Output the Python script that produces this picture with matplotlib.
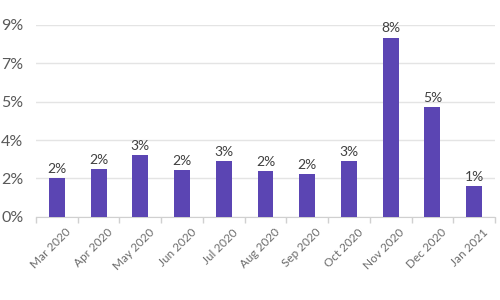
import matplotlib.pyplot as plt
import numpy as np
from matplotlib.ticker import FuncFormatter

# Monthly share values (percent)
months = ['Mar 2020', 'Apr 2020', 'May 2020', 'Jun 2020', 'Jul 2020', 'Aug 2020',
          'Sep 2020', 'Oct 2020', 'Nov 2020', 'Dec 2020', 'Jan 2021']
share = [1.83, 2.25, 2.9, 2.2, 2.6, 2.16, 2.0, 2.6, 8.4, 5.16, 1.46]
y_ticks = [0, 1.8, 3.6, 5.4, 7.2, 9.0]

plt.rcParams['font.family'] = ['Lato', 'DejaVu Sans']

fig = plt.figure(figsize=(5, 3), dpi=100)
ax = fig.add_axes([0.072, 0.277, 0.918, 0.64])

x = np.arange(len(months))
ax.bar(x, share, width=0.38, color='#5b45b3', zorder=3)

# Value labels above bars
for xi, v in zip(x, share):
    ax.text(xi, v + 0.15, f'{v:.0f}%', ha='center', va='bottom',
            fontsize=10, color='#404040', clip_on=False)

ax.set_ylim(0, 9.0)
ax.set_xlim(-0.5, len(months) - 0.5)
ax.set_yticks(y_ticks)
ax.yaxis.set_major_formatter(FuncFormatter(lambda v, p: f'{v:.0f}%'))
ax.yaxis.grid(True, color='#e4e4e4', linewidth=1, zorder=0)
ax.tick_params(axis='y', length=0, labelsize=11.5, labelcolor='#595959', pad=25)
for lab in ax.get_yticklabels():
    lab.set_horizontalalignment('left')

# Category labels, with tick marks at the boundaries
ax.set_xticks(x + 0.2)
ax.set_xticklabels(months, rotation=45, ha='right', rotation_mode='anchor',
                   fontsize=8.5, color='#6b6b6b')
ax.tick_params(axis='x', length=0, pad=7)
ax.set_xticks(np.arange(-0.5, len(months)), minor=True)
ax.tick_params(axis='x', which='minor', length=4, color='#d0d0d0', width=1)

for side in ['top', 'right', 'left']:
    ax.spines[side].set_visible(False)
ax.spines['bottom'].set_color('#d0d0d0')

plt.savefig('out.png', dpi=100)
plt.close()
